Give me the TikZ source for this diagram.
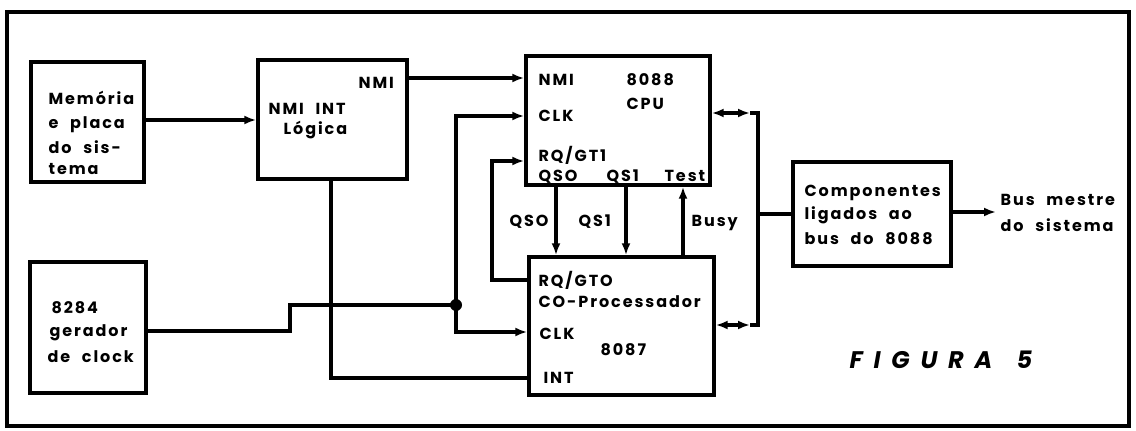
\documentclass[tikz,border=0pt]{standalone}
\usepackage{fontspec}
\setmainfont{Poppins}[LetterSpace=12,WordSpace=2.2]
\newfontfamily\figfont{Poppins}[LetterSpace=45]
\usetikzlibrary{arrows.meta}
\begin{document}
\begin{tikzpicture}[x=1pt,y=-1pt,line width=3.2pt,line join=miter,
  box/.style={draw,line width=3.4pt,inner sep=0pt},
  txt/.style={anchor=base west,inner sep=0pt,font=\bfseries\fontsize{16}{16}\selectfont},
  fig/.style={anchor=base west,inner sep=0pt,font=\figfont\bfseries\itshape\fontsize{24}{24}\selectfont},
  arr/.style={-{Latex[length=12pt,width=9pt]}},
  dbl/.style={{Latex[length=12pt,width=9pt]}-{Latex[length=12pt,width=9pt]}}]
\useasboundingbox (0,0) rectangle (1136,431);
% frame
\node[box,minimum width=1122pt,minimum height=414pt] (frame) at (568,219) {};
% boxes
\node[box,minimum width=113pt,minimum height=120pt] (mem) at (87.5,122) {};
\node[box,minimum width=149pt,minimum height=119pt] (nmi) at (332.5,119.5) {};
\node[box,minimum width=116pt,minimum height=131pt] (clk) at (88,327.5) {};
\node[box,minimum width=184pt,minimum height=129pt] (cpu) at (618,120.5) {};
\node[box,minimum width=185pt,minimum height=138pt] (cop) at (621.5,326) {};
\node[box,minimum width=158pt,minimum height=104pt] (comp) at (872,214) {};
% texts
\node[txt] (m1) at (47,104) {Memória};
\node[txt] (m2) at (47,128) {e placa};
\node[txt] (m3) at (47,153) {do sis-};
\node[txt] (m4) at (47,174) {tema};
\node[txt] (n1) at (357,88) {NMI};
\node[txt] (n2) at (267,114) {NMI INT};
\node[txt] (n3) at (282,134) {Lógica};
\node[txt] (k1) at (50,313) {8284};
\node[txt] (k2) at (48,336) {gerador};
\node[txt] (k3) at (46,362) {de clock};
\node[txt] (c1) at (537,85) {NMI};
\node[txt] (c2) at (625,85) {8088};
\node[txt] (c3) at (625,109) {CPU};
\node[txt] (c4) at (537,121) {CLK};
\node[txt] (c5) at (537,161) {RQ/GT1};
\node[txt] (c6) at (537,181) {QSO};
\node[txt] (c7) at (605,181) {QS1};
\node[txt] (c8) at (663,181) {Test};
\node[txt] (q1) at (508,226) {QSO};
\node[txt] (q2) at (577,226) {QS1};
\node[txt] (q3) at (690,226) {Busy};
\node[txt] (p1) at (537,286) {RQ/GTO};
\node[txt] (p2) at (537,307) {CO-Processador};
\node[txt] (p3) at (538,339) {CLK};
\node[txt] (p4) at (599,355) {8087};
\node[txt] (p5) at (542,383) {INT};
\node[txt] (b1) at (803,196) {Componentes};
\node[txt] (b2) at (803,219) {ligados ao};
\node[txt] (b3) at (803,244) {bus do 8088};
\node[txt] (o1) at (999,205) {Bus mestre};
\node[txt] (o2) at (999,231) {do sistema};
\node[fig] (f1) at (848,368) {FIGURA\kern8pt\ 5};
% helper coordinates
\coordinate (hMem) at (0,120);
\coordinate (hNMI) at (0,78);
\coordinate (hCLK1) at (0,116);
\coordinate (hRQ1) at (0,161);
\coordinate (hRQ0) at (0,280);
\coordinate (hCLK0) at (0,332);
\coordinate (hINT) at (0,378);
\coordinate (hBus1) at (0,113);
\coordinate (hBus0) at (0,325);
\coordinate (hComp) at (0,214);
\coordinate (hClkOut) at (0,331);
\coordinate (dot) at (456,305);
\coordinate (jog) at (290,305);
\coordinate (vINT) at (331,0);
\coordinate (vRQ) at (492,0);
\coordinate (vQS0) at (556,0);
\coordinate (vQS1) at (626,0);
\coordinate (vBusy) at (683,0);
\coordinate (vBus) at (758,0);
\coordinate (vTip) at (750,0);
\coordinate (busOut) at (996,212);
% connectors
\draw[arr] (mem.east |- hMem) -- (nmi.west |- hMem);
\draw[arr] (nmi.east |- hNMI) -- (cpu.west |- hNMI);
\draw (clk.east |- hClkOut) -- (jog |- hClkOut) -- (jog) -- (dot);
\draw[arr] (dot) -- (dot |- hCLK1) -- (cpu.west |- hCLK1);
\draw[arr] (dot) -- (dot |- hCLK0) -- (cop.west |- hCLK0);
\fill (dot) circle (6pt);
\draw (nmi.south -| vINT) -- (vINT |- hINT) -- (cop.west |- hINT);
\draw[arr] (cop.west |- hRQ0) -- (vRQ |- hRQ0) -- (vRQ |- hRQ1) -- (cpu.west |- hRQ1);
\draw[arr] (cpu.south -| vQS0) -- (cop.north -| vQS0);
\draw[arr] (cpu.south -| vQS1) -- (cop.north -| vQS1);
\draw[arr] (cop.north -| vBusy) -- (cpu.south -| vBusy);
\draw[dbl] (cpu.east |- hBus1) -- (vTip |- hBus1);
\draw (vTip |- hBus1) -- (vBus |- hBus1) -- (vBus |- hBus0) -- (vTip |- hBus0);
\draw[dbl] (cop.east |- hBus0) -- (vTip |- hBus0);
\draw (vBus |- hComp) -- (comp.west |- hComp);
\draw[arr] (comp.east |- busOut) -- (busOut);
\end{tikzpicture}
\end{document}
